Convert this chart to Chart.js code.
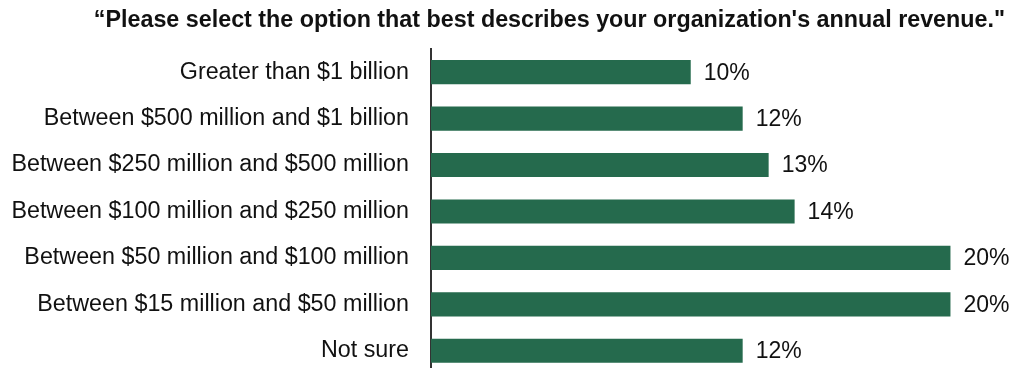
<!DOCTYPE html>
<html>
<head>
<meta charset="utf-8">
<script src="https://cdn.jsdelivr.net/npm/chart.js@4.4.1/dist/chart.umd.min.js"></script>
<style>
    html, body { margin: 0; padding: 0; background: #fff; overflow: hidden; }
    #chartBox { position: relative; width: 1025px; height: 374px; }
</style>
</head>
<body>
<div id="chartBox"><canvas id="revenueChart"></canvas></div>
<script>
const categories = [
    'Greater than $1 billion',
    'Between $500 million and $1 billion',
    'Between $250 million and $500 million',
    'Between $100 million and $250 million',
    'Between $50 million and $100 million',
    'Between $15 million and $50 million',
    'Not sure'
];
const shares = [10, 12, 13, 14, 20, 20, 12];

const titleText = '\u201cPlease select the option that best describes your organization\'s annual revenue."';

const FONT = '"Liberation Sans", Arial, sans-serif';

// writes "NN%" just past the end of each bar
const barValueLabels = {
    id: 'barValueLabels',
    afterDatasetsDraw(chart) {
        const ctx = chart.ctx;
        const meta = chart.getDatasetMeta(0);
        ctx.save();
        ctx.font = '23px ' + FONT;
        ctx.fillStyle = '#111';
        ctx.textAlign = 'left';
        ctx.textBaseline = 'middle';
        meta.data.forEach((bar, i) => {
            ctx.fillText(shares[i] + '%', bar.x + 13, bar.y + 1);
        });
        ctx.restore();
    }
};

const ctx = document.getElementById('revenueChart');

new Chart(ctx, {
    type: 'bar',
    data: {
        labels: categories,
        datasets: [
            {
                data              : shares,
                backgroundColor   : '#256a4d',
                borderWidth       : 0,
                categoryPercentage: 1,
                barPercentage     : 0.52
            }
        ]
    },
    options: {
        indexAxis: 'y',
        responsive: true,
        maintainAspectRatio: false,
        animation: false,
        layout: {
            padding: { top: 0, right: 20, bottom: 0, left: 0 }
        },
        plugins: {
            legend : { display: false },
            tooltip: { enabled: false },
            title  : {
                display: true,
                text   : titleText,
                align  : 'end',
                color  : '#111',
                font   : { family: FONT, size: 23.3, weight: 'bold' },
                padding: { top: 7, bottom: 14 }
            }
        },
        scales: {
            x: {
                display: false,
                min    : 0,
                max    : 22.1
            },
            y: {
                grid  : { display: false, drawTicks: false },
                border: { display: true, color: '#333', width: 2 },
                ticks : {
                    color  : '#111',
                    padding: 22,
                    font   : { family: FONT, size: 23.3 }
                },
                // fixed label column, no extra space above/below the rows
                afterFit(scale) {
                    scale.width = 431;
                    scale.paddingTop = 0;
                    scale.paddingBottom = 0;
                }
            }
        }
    },
    plugins: [barValueLabels]
});
</script>
</body>
</html>
